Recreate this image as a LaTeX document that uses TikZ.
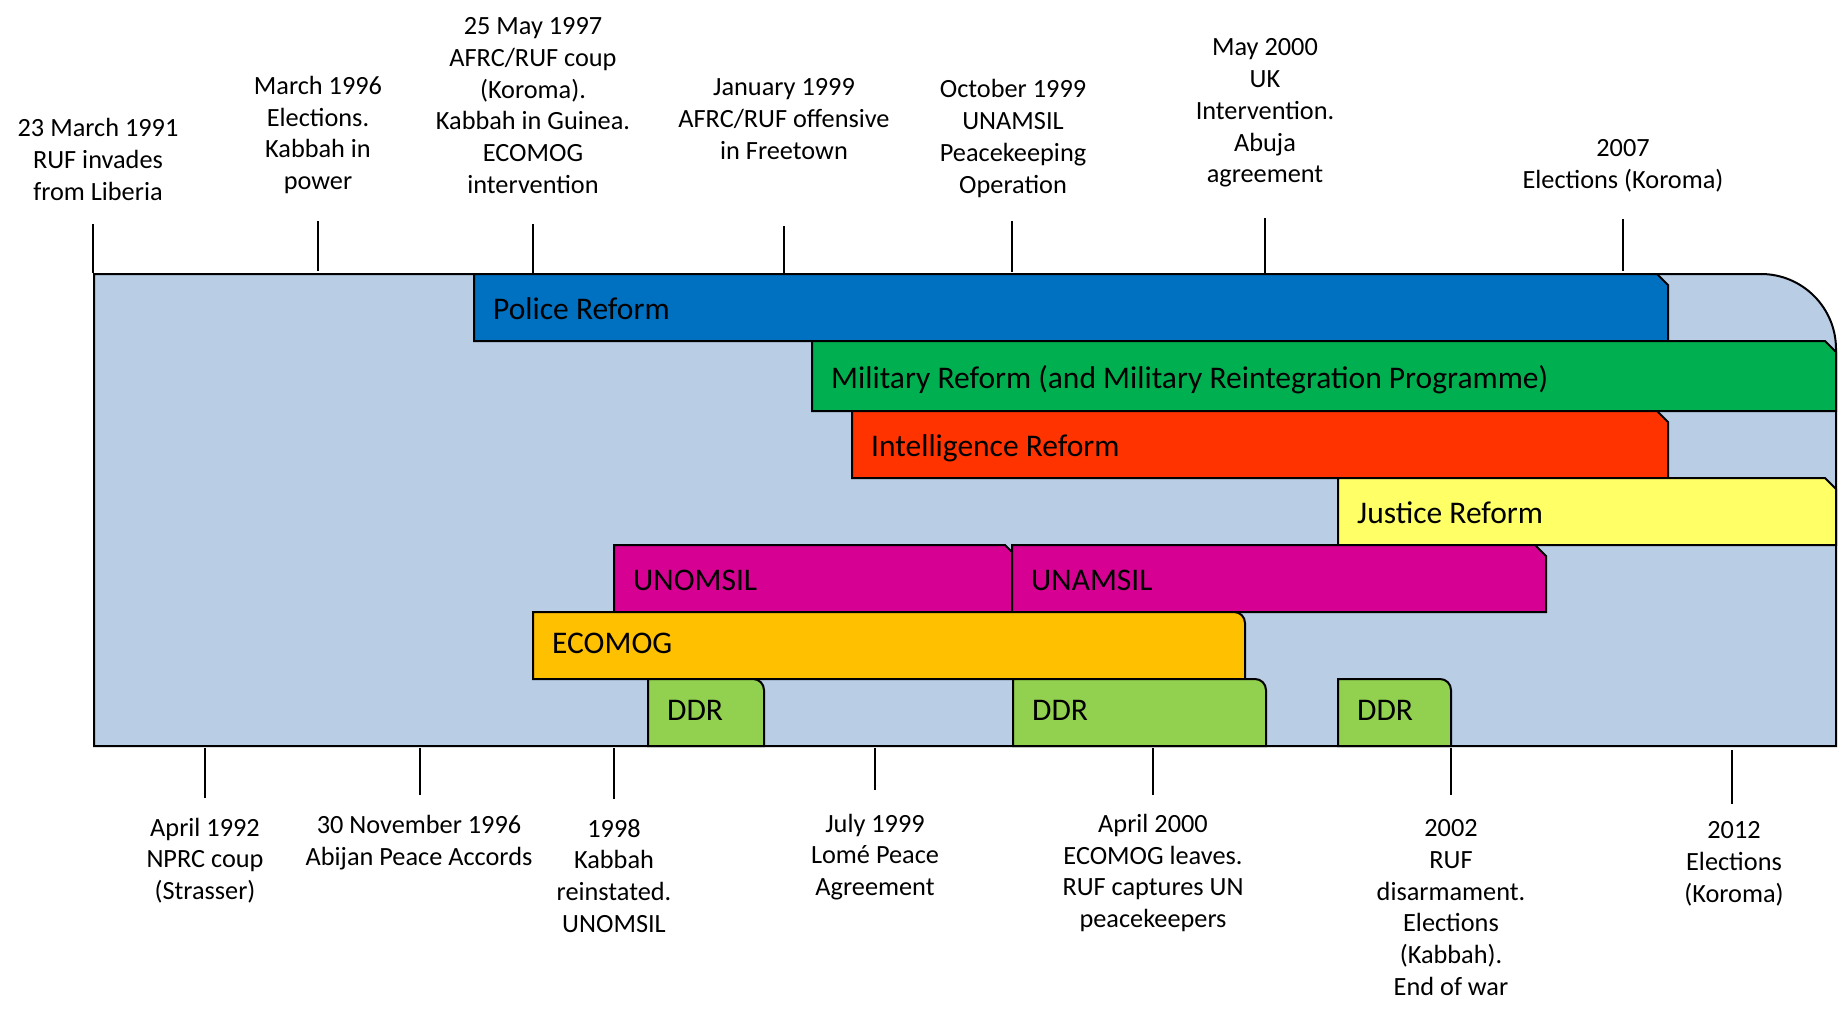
\documentclass[tikz,border=0pt]{standalone}
\usepackage{fontspec}
\setmainfont{Carlito}
\definecolor{bgblue}{HTML}{B9CDE5}
\definecolor{policec}{HTML}{0070C0}
\definecolor{milc}{HTML}{00B050}
\definecolor{intc}{HTML}{FF3300}
\definecolor{justc}{HTML}{FFFF66}
\definecolor{unc}{HTML}{D60093}
\definecolor{ecoc}{HTML}{FFC000}
\definecolor{ddrc}{HTML}{92D050}
\tikzset{
  barshape/.style={draw=black,line width=2pt,line join=miter},
  bartext/.style={inner sep=0pt,font=\fontsize{31.5}{38}\selectfont,anchor=base west},
  evlabel/.style={inner sep=0pt,align=center,font=\fontsize{26.3}{31.8}\selectfont},
  tickline/.style={draw=black,line width=2.4pt}
}
% chamfered bar: name, colour, x1, ytop, x2, ybottom, text
\newcommand{\chambar}[7]{%
  \path[barshape,fill=#2] (#3,#6) -- (#3,#4) -- ({#5-11},#4) -- (#5,{#4+11}) -- (#5,#6) -- cycle;
  \node[bartext] (#1) at ({#3+19},{(#4+#6)/2+12}) {#7};}
% rounded bar
\newcommand{\roundbar}[7]{%
  \path[barshape,fill=#2] (#3,#6) -- (#3,#4) -- ({#5-11},#4) .. controls ({#5-4.9},#4) and (#5,{#4+4.9}) .. (#5,{#4+11}) -- (#5,#6) -- cycle;
  \node[bartext] (#1) at ({#3+19},{(#4+#6)/2+8}) {#7};}
\begin{document}
\begin{tikzpicture}[x=1pt,y=-1pt]
\useasboundingbox (0,0) rectangle (1845,1009);
% background panel
\path[barshape,fill=bgblue] (94,746) -- (94,274) -- (1761,274) .. controls (1802.4,274) and (1836,307.6) .. (1836,349) -- (1836,746) -- cycle;
% bars
\chambar{police}{policec}{474}{274}{1668}{341}{Police Reform}
\chambar{military}{milc}{812}{341}{1836}{411}{Military Reform (and Military Reintegration Programme)}
\chambar{intel}{intc}{852}{411}{1668}{478}{Intelligence Reform}
\chambar{justice}{justc}{1338}{478}{1836}{545}{Justice Reform}
\chambar{unomsil}{unc}{614}{545}{1016}{612}{UNOMSIL}
\chambar{unamsil}{unc}{1012}{545}{1546}{612}{UNAMSIL}
\roundbar{ecomog}{ecoc}{533}{612}{1245}{679}{ECOMOG}
\roundbar{ddra}{ddrc}{648}{679}{764}{746}{DDR}
\roundbar{ddrb}{ddrc}{1013}{679}{1266}{746}{DDR}
\roundbar{ddrc}{ddrc}{1338}{679}{1451}{746}{DDR}
% top ticks
\draw[tickline] (93,224) -- (93,273);
\draw[tickline] (318,221) -- (318,271);
\draw[tickline] (533,224) -- (533,273);
\draw[tickline] (784,226) -- (784,273);
\draw[tickline] (1012,221) -- (1012,272);
\draw[tickline] (1265,218) -- (1265,273);
\draw[tickline] (1623,219) -- (1623,271);
% bottom ticks
\draw[tickline] (205,748) -- (205,798);
\draw[tickline] (420,748) -- (420,795);
\draw[tickline] (614,748) -- (614,799);
\draw[tickline] (875,748) -- (875,790);
\draw[tickline] (1153,748) -- (1153,795);
\draw[tickline] (1451,748) -- (1451,795);
\draw[tickline] (1732,750) -- (1732,804);
% top labels
\node[evlabel] (t1) at (98,159.5) {23 March 1991\\RUF invades\\from Liberia};
\node[evlabel] (t2) at (318,135) {March 1996\\Elections.\\Kabbah in\\power};
\node[evlabel] (t3) at (533,105.5) {25 May 1997\\AFRC/RUF coup\\(Koroma).\\Kabbah in Guinea.\\ECOMOG\\intervention};
\node[evlabel] (t4) at (784,119) {January 1999\\AFRC/RUF offensive\\in Freetown};
\node[evlabel] (t5) at (1013,138.5) {October 1999\\UNAMSIL\\Peacekeeping\\Operation};
\node[evlabel] (t6) at (1265,113) {May 2000\\UK\\Intervention.\\Abuja\\agreement};
\node[evlabel] (t7) at (1623,165.5) {2007\\Elections (Koroma)};
% bottom labels
\node[evlabel] (b1) at (205,860.5) {April 1992\\NPRC coup\\(Strasser)};
\node[evlabel] (b2) at (419,842.5) {30 November 1996\\Abijan Peace Accords};
\node[evlabel] (b3) at (614,876) {1998\\Kabbah\\reinstated.\\UNOMSIL};
\node[evlabel] (b4) at (875,857) {July 1999\\Lomé Peace\\Agreement};
\node[evlabel] (b5) at (1153,873) {April 2000\\ECOMOG leaves.\\RUF captures UN\\peacekeepers};
\node[evlabel] (b6) at (1451,907.5) {2002\\RUF\\disarmament.\\Elections\\(Kabbah).\\End of war};
\node[evlabel] (b7) at (1734,864) {2012\\Elections\\(Koroma)};
\end{tikzpicture}
\end{document}
